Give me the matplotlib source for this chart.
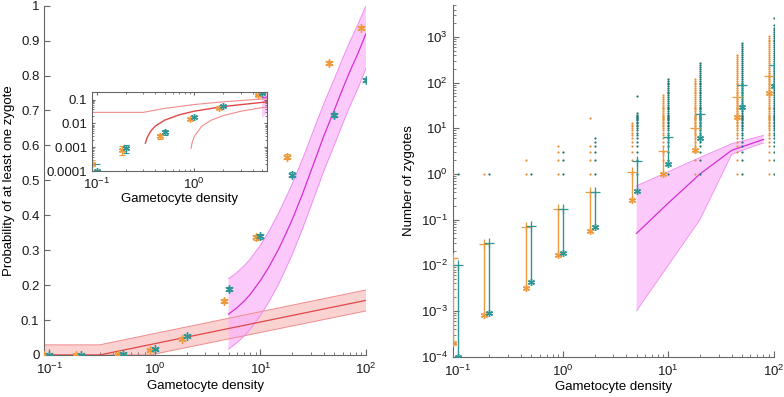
import numpy as np
import matplotlib
matplotlib.use('Agg')
import matplotlib.pyplot as plt
from matplotlib.ticker import LogLocator, NullFormatter, FixedLocator, FixedFormatter, LogFormatterMathtext

plt.rcParams['font.family'] = ['Liberation Sans', 'DejaVu Sans']
plt.rcParams['mathtext.default'] = 'regular'
plt.rcParams['font.size'] = 9.5

# ---------------- data ----------------
density = [0.1, 0.2, 0.5, 1, 2, 5, 10, 20, 50, 100]
orange_shift = 0.9

# left panel: probability of at least one zygote
p_orange = [0.0002, 0.0008, 0.0030, 0.015, 0.046, 0.155, 0.337, 0.567, 0.836, 0.937]
p_teal = [0.0001, 0.0009, 0.0042, 0.018, 0.054, 0.19, 0.34, 0.516, 0.687, 0.786]
err_orange = [0.0001, 0.0003, 0.0007, 0.0017, 0.003, 0.005, 0.0067, 0.007, 0.0052, 0.0034]
err_teal = [0.0001, 0.0003, 0.0009, 0.0019, 0.0032, 0.0055, 0.0067, 0.007, 0.0066, 0.0058]

# red model (mid, band)
red_x = [0.09, 0.3, 0.316, 0.33, 0.36, 0.4, 0.5, 0.7, 1, 2, 5, 10, 20, 50, 100]
red_y = [0, 0, 0.0015, 0.0026, 0.0049, 0.0078, 0.0138, 0.0228, 0.0324, 0.0511, 0.0758, 0.0944, 0.1131, 0.1378, 0.1564]
red_up_x = [0.09, 0.3, 0.5, 1, 2, 5, 10, 20, 50, 100]
red_up_y = [0.029, 0.029, 0.0428, 0.0616, 0.0803, 0.1051, 0.1239, 0.1426, 0.1674, 0.1862]
red_lo_x = [0.09, 0.9, 0.93, 0.95, 1, 1.2, 1.5, 2, 3, 5, 10, 20, 50, 100]
red_lo_y = [0, 0, 0.0009, 0.00145, 0.0028, 0.0077, 0.0137, 0.0214, 0.0322, 0.0459, 0.0644, 0.083, 0.1075, 0.126]

# magenta model, left panel
mag_x = [5, 6, 7, 8, 10, 12, 15, 17, 20, 25, 30, 35, 40, 50, 60, 70, 85, 100]
mag_y = [0.117, 0.135, 0.154, 0.173, 0.213, 0.251, 0.305, 0.340, 0.387, 0.460, 0.525,
         0.580, 0.628, 0.700, 0.761, 0.810, 0.867, 0.920]
mag_up = [0.218, 0.236, 0.255, 0.274, 0.314, 0.353, 0.408, 0.443, 0.489, 0.560, 0.622,
          0.675, 0.720, 0.789, 0.848, 0.895, 0.950, 1.000]
mag_lo = [0.017, 0.035, 0.054, 0.073, 0.113, 0.151, 0.205, 0.240, 0.287, 0.360, 0.425,
          0.480, 0.528, 0.600, 0.661, 0.710, 0.767, 0.820]

# right panel: number of zygotes
star_orange = [2.0e-4, 8.1e-4, 3.2e-3, 0.0166, 0.055, 0.27, 1.0, 3.3, 18, 59]
plus_orange = [0.0144, 0.0295, 0.068, 0.168, 0.40, 1.1, 3.2, 10, 48, 139]
star_teal = [1.0e-4, 9.1e-4, 4.3e-3, 0.019, 0.068, 0.43, 1.65, 6.0, 29, 83]
plus_teal = [0.010, 0.031, 0.071, 0.173, 0.41, 1.9, 6.5, 21, 89, 250]

count_levels = [1, 2, 3, 4, 5, 6, 7, 8, 9, 10, 11, 12, 13, 14, 15, 16, 17, 18, 19, 20,
                22, 24, 26, 28, 30, 33, 36, 40, 44, 48, 53, 58, 64, 70, 77, 85, 93, 100,
                110, 120, 135, 150, 165, 180, 200, 220, 245, 270, 300, 330, 365, 400,
                440, 490, 540, 600, 660, 730, 800, 880, 970, 1070, 1180, 1300, 1450,
                1600, 1800]
dot_max_orange = [1, 1, 2, 4, 4, 13, 55, 125, 420, 1100]
dot_extra_orange = [[], [], [], [], [17], [], [], [], [], []]
dot_max_teal = [1, 1, 1, 3, 6, 22, 120, 280, 750, 1800]
dot_extra_teal = [[], [], [], [], [], [50], [], [], [], [2600]]

mag2_x = [5, 10, 20, 40, 80]
mag2_y = [0.05, 0.23, 1.0, 3.3, 5.7]
mag2_up = [0.55, 1.12, 2.3, 4.6, 7.0]
mag2_lo = [0.001, 0.01, 0.1, 2.7, 4.8]

# ---------------- style ----------------
C_OR = '#EE9A3E'
C_TE = '#2F9696'
C_OR_DOT = '#E8913A'
C_TE_DOT = '#1E7474'
C_RED = '#E04848'
C_RED_L = '#F08C8C'
C_RED_F = '#F9C4C4'
C_MAG = '#D52FD5'
C_MAG_L = '#F08CF0'
C_MAG_F = '#FAB4FA'
C_AX = '#666666'
AST = (6, 2, 0)


def style_axes(ax, box=False):
    for s in ['top', 'right']:
        ax.spines[s].set_visible(box)
    for s in ax.spines.values():
        s.set_color(C_AX)
        s.set_linewidth(0.8)
    ax.tick_params(which='both', direction='in', color=C_AX, labelcolor='#1a1a1a',
                   top=box, right=box)
    ax.tick_params(which='major', length=4)
    ax.tick_params(which='minor', length=2)


fig = plt.figure(figsize=(7.84, 3.97), dpi=100)

# ---------------- left main axes ----------------
axL = fig.add_axes([0.0565, 0.1058, 0.4103, 0.880])
axL.set_xscale('log')
xo = [d * orange_shift for d in density]

# red band
poly_x = list(red_up_x) + list(red_lo_x[::-1])
poly_y = list(red_up_y) + list(red_lo_y[::-1])
axL.fill(poly_x, poly_y, color=C_RED_F, alpha=0.75, lw=0, zorder=1)
axL.plot(red_up_x, red_up_y, color=C_RED_L, lw=0.7, zorder=2)
axL.plot(red_lo_x, red_lo_y, color=C_RED_L, lw=0.7, zorder=2)
axL.plot(red_x, red_y, color=C_RED, lw=0.9, zorder=3)

# magenta band
axL.fill(list(mag_x) + list(mag_x[::-1]), list(mag_up) + list(mag_lo[::-1]),
         color=C_MAG_F, alpha=0.7, lw=0, zorder=1.5)
axL.plot(mag_x, mag_up, color=C_MAG_L, lw=0.7, zorder=2)
axL.plot(mag_x, mag_lo, color=C_MAG_L, lw=0.7, zorder=2)
axL.plot(mag_x, mag_y, color=C_MAG, lw=0.9, zorder=3)

axL.errorbar(xo, p_orange, yerr=err_orange, fmt='none', ecolor=C_OR, elinewidth=0.8,
             capsize=2.5, capthick=0.8, zorder=4)
axL.errorbar(density, p_teal, yerr=err_teal, fmt='none', ecolor=C_TE, elinewidth=0.8,
             capsize=2.5, capthick=0.8, zorder=4)
axL.plot(xo, p_orange, ls='none', marker=AST, ms=6, mew=1.0, color=C_OR, zorder=5)
axL.plot(density, p_teal, ls='none', marker=AST, ms=6, mew=1.0, color=C_TE, zorder=5)

axL.set_xlim(0.09, 100)
axL.set_ylim(0, 1)
axL.set_yticks(np.arange(0, 1.01, 0.1))
axL.set_yticklabels(['0', '0.1', '0.2', '0.3', '0.4', '0.5', '0.6', '0.7', '0.8', '0.9', '1'])
axL.xaxis.set_major_locator(FixedLocator([0.1, 1, 10, 100]))
axL.xaxis.set_major_formatter(LogFormatterMathtext())
axL.xaxis.set_minor_locator(LogLocator(base=10, subs=np.arange(2, 10), numticks=20))
axL.xaxis.set_minor_formatter(NullFormatter())
style_axes(axL)
axL.tick_params(axis='x', pad=5)
axL.set_xlabel('Gametocyte density', labelpad=2)
axL.set_ylabel('Probability of at least one zygote', labelpad=4)

# ---------------- inset ----------------
axI = fig.add_axes([0.1177, 0.5685, 0.2228, 0.199])
axI.set_facecolor('white')
axI.set_xscale('log')
axI.set_yscale('log', nonpositive='mask')
axI.plot(red_up_x, red_up_y, color=C_RED_L, lw=0.8)
axI.plot(red_lo_x, red_lo_y, color=C_RED_L, lw=0.8)
axI.plot(red_x, red_y, color=C_RED, lw=1.0)
axI.fill(list(mag_x) + list(mag_x[::-1]), list(mag_up) + list(mag_lo[::-1]),
         color=C_MAG_F, alpha=0.7, lw=0)
axI.plot(mag_x, mag_y, color=C_MAG, lw=0.8)
axI.errorbar(xo, p_orange, yerr=err_orange, fmt='none', ecolor=C_OR, elinewidth=0.8,
             capsize=2.5, capthick=0.8)
axI.errorbar(density, p_teal, yerr=err_teal, fmt='none', ecolor=C_TE, elinewidth=0.8,
             capsize=2.5, capthick=0.8)
axI.plot(xo, p_orange, ls='none', marker=AST, ms=5, mew=1.0, color=C_OR)
axI.plot(density, p_teal, ls='none', marker=AST, ms=5, mew=1.0, color=C_TE)
axI.set_xlim(0.09, 5.6)
axI.set_ylim(1e-4, 0.2)
axI.yaxis.set_major_locator(FixedLocator([1e-4, 1e-3, 1e-2, 1e-1]))
axI.yaxis.set_major_formatter(FixedFormatter(['0.0001', '0.001', '0.01', '0.1']))
axI.yaxis.set_minor_locator(LogLocator(base=10, subs=np.arange(2, 10), numticks=20))
axI.yaxis.set_minor_formatter(NullFormatter())
axI.xaxis.set_major_locator(FixedLocator([0.1, 1]))
axI.xaxis.set_major_formatter(LogFormatterMathtext())
axI.xaxis.set_minor_locator(LogLocator(base=10, subs=np.arange(2, 10), numticks=20))
axI.xaxis.set_minor_formatter(NullFormatter())
style_axes(axI, box=True)
axI.tick_params(which='major', length=2.5)
axI.tick_params(which='minor', length=1.5)
axI.tick_params(axis='x', pad=4)
axI.set_xlabel('Gametocyte density', labelpad=1)

# ---------------- right axes ----------------
axR = fig.add_axes([0.5774, 0.1020, 0.4094, 0.885])
axR.set_xscale('log')
axR.set_yscale('log')

axR.fill(list(mag2_x) + list(mag2_x[::-1]), list(mag2_up) + list(mag2_lo[::-1]),
         color=C_MAG_F, alpha=0.7, lw=0, zorder=1)
axR.plot(mag2_x, mag2_up, color=C_MAG_L, lw=0.6, zorder=1.5)
axR.plot(mag2_x, mag2_lo, color=C_MAG_L, lw=0.6, zorder=1.5)
axR.plot(mag2_x, mag2_y, color=C_MAG, lw=0.9, zorder=2)

for i, d in enumerate(density):
    d_o = d * orange_shift
    vals_o = [v for v in count_levels if v <= dot_max_orange[i]] + dot_extra_orange[i]
    vals_t = [v for v in count_levels if v <= dot_max_teal[i]] + dot_extra_teal[i]
    axR.plot([d_o] * len(vals_o), vals_o, ls='none', marker='o', ms=1.6, mew=0,
             color=C_OR_DOT, zorder=3)
    axR.plot([d] * len(vals_t), vals_t, ls='none', marker='o', ms=1.6, mew=0,
             color=C_TE_DOT, zorder=3)
    axR.plot([d_o, d_o], [star_orange[i], plus_orange[i]], color=C_OR, lw=1.0, zorder=4)
    axR.plot([d, d], [star_teal[i], plus_teal[i]], color=C_TE, lw=1.0, zorder=4)

axR.plot(xo, plus_orange, ls='none', marker='+', ms=7, mew=0.9, color=C_OR, zorder=5)
axR.plot(density, plus_teal, ls='none', marker='+', ms=7, mew=0.9, color=C_TE, zorder=5)
axR.plot(xo, star_orange, ls='none', marker=AST, ms=5, mew=1.0, color=C_OR, zorder=5)
axR.plot(density, star_teal, ls='none', marker=AST, ms=5, mew=1.0, color=C_TE, zorder=5)

axR.set_xlim(0.09, 100)
axR.set_ylim(1e-4, 5e3)
axR.xaxis.set_major_locator(FixedLocator([0.1, 1, 10, 100]))
axR.xaxis.set_major_formatter(LogFormatterMathtext())
axR.xaxis.set_minor_locator(LogLocator(base=10, subs=np.arange(2, 10), numticks=20))
axR.xaxis.set_minor_formatter(NullFormatter())
axR.yaxis.set_major_locator(FixedLocator([1e-4, 1e-3, 1e-2, 1e-1, 1, 10, 100, 1000]))
axR.yaxis.set_major_formatter(LogFormatterMathtext())
axR.yaxis.set_minor_locator(LogLocator(base=10, subs=np.arange(2, 10), numticks=20))
axR.yaxis.set_minor_formatter(NullFormatter())
style_axes(axR)
axR.tick_params(axis='x', pad=5)
axR.set_xlabel('Gametocyte density', labelpad=2)
axR.set_ylabel('Number of zygotes', labelpad=4)

fig.savefig('out.png', dpi=100)
